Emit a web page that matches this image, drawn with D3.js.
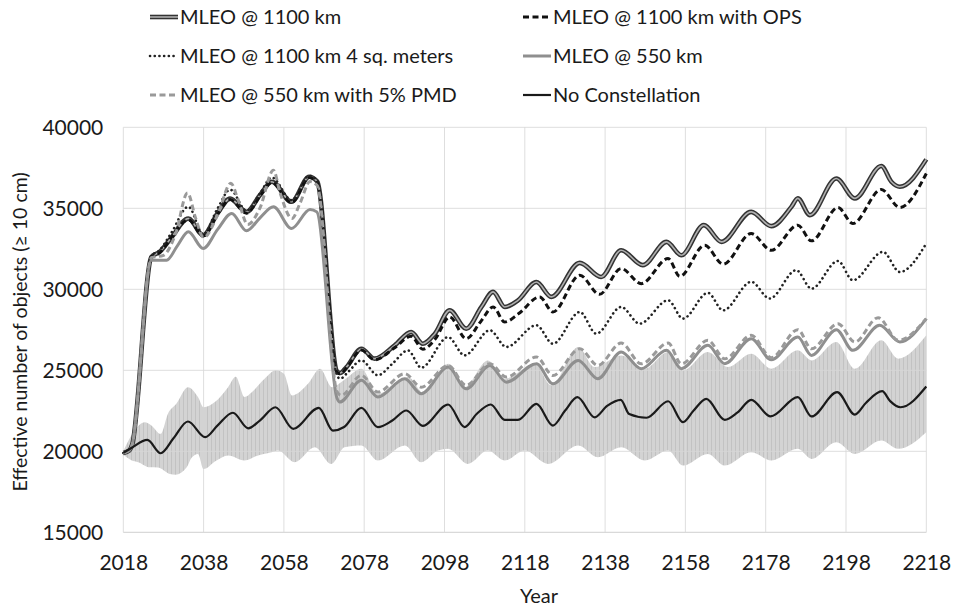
<!DOCTYPE html>
<html><head><meta charset="utf-8">
<script src="https://cdn.jsdelivr.net/npm/d3@7"></script>
<style>
html,body{margin:0;padding:0;background:#fff;}
text{font-family:Lato,"Open Sans",sans-serif;fill:#1a1a1a;}
</style></head>
<body><svg id="chart" width="955" height="609"></svg>
<script>
// ---- data ----
const xTicks = [2018,2038,2058,2078,2098,2118,2138,2158,2178,2198,2218];
const yTicks = [15000,20000,25000,30000,35000,40000];
const seriesNames = ["MLEO @ 1100 km","MLEO @ 1100 km with OPS","MLEO @ 1100 km 4 sq. meters","MLEO @ 550 km","MLEO @ 550 km with 5% PMD","No Constellation"];

const mleo1100 = [[2018,19900],[2019.5,20050],[2020.2,20400],[2025,32000],[2027,32300],[2030,33200],[2034.2,34370],[2037.9,33340],[2041.5,34700],[2044.6,35600],[2048.7,34780],[2052,35800],[2055,36640],[2059.9,35400],[2064.3,36950],[2066.3,36650],[2071.2,24950],[2072,24830],[2073.6,25200],[2077.3,26330],[2080.6,25720],[2085.6,26540],[2089.7,27360],[2092.6,26640],[2095.6,27260],[2099.3,28700],[2103.4,27570],[2107.2,28910],[2110.1,29840],[2113,28910],[2116.3,29320],[2120.9,30450],[2124.6,29530],[2131.7,31630],[2137,30760],[2142,32410],[2147.4,31490],[2153.3,32930],[2157,32100],[2162.6,33960],[2167,32930],[2174.4,34780],[2179.4,33900],[2184.4,35090],[2186,35610],[2189,34580],[2195.6,36840],[2200.2,35610],[2206.8,37610],[2209.3,36640],[2211.4,36330],[2218,38020]];

const mleo1100Ops = [[2018,19900],[2019.5,20050],[2020.2,20400],[2025,32000],[2027,32250],[2030,33200],[2034.2,34300],[2037.9,33300],[2041.5,34650],[2044.6,35550],[2048.7,34700],[2052,35750],[2055,36600],[2059.9,35350],[2064.3,36900],[2066.3,36600],[2071.2,24900],[2072,24780],[2073.6,25150],[2077.3,26250],[2080.6,25650],[2085.6,26400],[2089.7,27100],[2092.6,26300],[2095.6,26900],[2099.3,28290],[2103.4,26950],[2107,28000],[2110.1,28910],[2113,27980],[2116.5,28500],[2121.7,29530],[2125,28600],[2131.7,30870],[2136.6,29690],[2142,31280],[2147,30350],[2153.7,31900],[2156.6,30800],[2162.8,32720],[2167.4,31550],[2174.4,33440],[2179.4,32410],[2186,33960],[2189.4,32990],[2196,35050],[2199.7,34060],[2206.8,36160],[2211.4,35050],[2218,37150]];

const mleo1100Sq4 = [[2018,19900],[2019.5,20050],[2020.2,20400],[2025,32050],[2027,32400],[2030,33500],[2034.2,35100],[2037.9,33400],[2041.5,35000],[2044.6,36150],[2048.7,34850],[2052,35900],[2055,36900],[2059.9,35500],[2064.3,37000],[2066.3,36700],[2071.2,24700],[2072,24480],[2074,24900],[2077.3,25610],[2081.4,24690],[2085,25400],[2088.9,26230],[2092.2,25160],[2098.9,27050],[2103,25920],[2109.3,27470],[2113.4,26440],[2120.9,27780],[2125,26640],[2131.7,28600],[2135.8,27260],[2142,28910],[2146.6,27880],[2153.7,29320],[2157.4,28190],[2163.6,29780],[2167.4,28700],[2174.4,30460],[2179,29430],[2185.6,31180],[2189.4,30040],[2196,31750],[2199.7,30560],[2207.2,32310],[2211.4,31070],[2218,32830]];

const mleo550 = [[2018,19900],[2019.5,20050],[2020.2,20400],[2025,31800],[2028.8,31800],[2031.5,32700],[2034.2,33550],[2037.9,32520],[2041.5,33700],[2045,34680],[2048.7,33610],[2052,34400],[2055.4,35090],[2059.9,33750],[2064.5,34930],[2066.2,34780],[2071.2,23300],[2071.9,23040],[2077.3,24380],[2081.4,23350],[2088.1,24480],[2092.2,23550],[2098.9,25200],[2103.4,23860],[2109.3,25300],[2113.4,24270],[2120.9,25410],[2125,24170],[2131.3,25610],[2136.2,24480],[2142,26130],[2147,25100],[2153.3,26230],[2157,25100],[2163.6,26540],[2167.8,25410],[2174.4,26950],[2179.4,25650],[2186,27050],[2189.4,25920],[2195.6,27510],[2199.7,26230],[2206.4,27780],[2211.4,26750],[2218,28190]];

const mleo550Pmd = [[2018,19900],[2019.5,20050],[2020.2,20400],[2025,31950],[2028,32100],[2031,33400],[2034,35950],[2036,34400],[2038,33200],[2041.5,34600],[2044.8,36550],[2046.5,35600],[2049,34000],[2052,35000],[2055.4,37350],[2057,36000],[2060,34370],[2062,35300],[2064.5,36650],[2066.3,36400],[2071.2,23700],[2072.3,23450],[2077.3,24690],[2081.4,23660],[2088.1,24790],[2092.2,23960],[2098.9,25300],[2103.4,24070],[2109.3,25410],[2113.4,24580],[2120.9,25820],[2125,24680],[2131.7,26330],[2136.2,25300],[2142,26680],[2147,25400],[2153.7,26680],[2157,25400],[2163.6,26850],[2167.8,25710],[2174.4,27160],[2179.4,25780],[2186,27510],[2189.4,26330],[2196,27880],[2200.2,26750],[2206,28250],[2211,26850],[2218,28190]];

const noConstellation = [[2018,19900],[2020,20200],[2024,20700],[2027.3,19880],[2030.5,20800],[2034.1,21840],[2038.4,20870],[2041.5,21600],[2045.3,22380],[2049.1,21420],[2052,21900],[2055.9,22720],[2060.3,21390],[2066.7,22680],[2070.2,21280],[2073,21500],[2077.3,22680],[2081.4,21490],[2085,21900],[2088.5,22520],[2092.6,21570],[2098.9,22890],[2103,21490],[2106,22300],[2109.5,22890],[2113,21940],[2116.3,21940],[2120.9,22930],[2125,21590],[2128,22500],[2131.1,23340],[2135.4,22100],[2138.5,22800],[2141.9,23180],[2144,22300],[2148.3,22070],[2153.7,23090],[2157.4,21800],[2160,22500],[2163.2,23240],[2167.8,21940],[2171,22400],[2174.4,23180],[2179.2,22150],[2186,23340],[2189.4,22150],[2195.8,23650],[2200.2,22270],[2203,23000],[2207,23710],[2209,23100],[2211.6,22720],[2218,24000]];

const bandUpper = [[2018,20000],[2020.8,21280],[2023.3,21800],[2025,21600],[2027.3,21080],[2029.1,22310],[2031.2,22930],[2034.1,23960],[2036.6,23350],[2038,22720],[2040.8,23040],[2044.1,23960],[2046,24600],[2048.2,23350],[2050,23650],[2053.2,24480],[2056,25000],[2058,24790],[2060,23450],[2064,24170],[2067,25100],[2070,23960],[2073,24400],[2077.3,25100],[2081.4,23550],[2085,24000],[2088.9,24580],[2093,23550],[2096,24500],[2098.9,25400],[2103,23960],[2108.8,25610],[2113,24480],[2120.5,25400],[2124.6,24070],[2131.3,26440],[2135.4,25200],[2142,25920],[2147.9,25100],[2153.7,26130],[2157.4,24990],[2163.6,26130],[2168.6,25200],[2174.4,26020],[2179.4,25100],[2186,26230],[2189.4,25610],[2195.6,26750],[2200.2,25100],[2206.8,26850],[2211,25720],[2218,27160]];

const bandLower = [[2018,19800],[2020,19450],[2021.7,19330],[2024.6,19010],[2026.6,19000],[2029.6,18600],[2031,18550],[2033.8,19010],[2035,19600],[2036.6,19840],[2038,18900],[2041,19400],[2044.1,19740],[2048.2,19430],[2051,19700],[2054.9,19940],[2056.5,20050],[2060.7,19330],[2065.7,20250],[2069.8,19220],[2073.1,20250],[2077.3,20360],[2081.4,19430],[2088.1,20360],[2092.2,19330],[2096.4,20050],[2098.9,20150],[2103.8,19220],[2108.8,20050],[2113,19430],[2118,20050],[2123.8,19220],[2131.3,20360],[2136.2,19630],[2142,20250],[2147.9,19430],[2153.7,20050],[2157.4,19120],[2163.6,19840],[2167.8,19120],[2174.4,19940],[2179.4,19430],[2186,20150],[2189.4,19530],[2195.6,20560],[2200.2,19840],[2206.8,20670],[2211,20150],[2218,21180]];

// ---- layout ----
const svg = d3.select("#chart");
const x = d3.scaleLinear().domain([2018,2218]).range([123.3,926.3]);
const y = d3.scaleLinear().domain([15000,40000]).range([532.3,127.3]);

// pattern for band texture (vertical error-bar look)
const defs = svg.append("defs");
const pat = defs.append("pattern").attr("id","bandPat").attr("patternUnits","userSpaceOnUse")
  .attr("width",4).attr("height",10);
pat.append("rect").attr("width",4).attr("height",10).attr("fill","#d3d3d3");
pat.append("rect").attr("x",3).attr("width",1).attr("height",10).attr("fill","#c2c2c2");

const curve = d3.curveMonotoneX;
const lineGen = d3.line().x(d=>x(d[0])).y(d=>y(d[1])).curve(curve);
const upPath = lineGen(bandUpper);
const lowPath = lineGen(bandLower.slice().reverse());
svg.append("path").attr("d", upPath + "L" + lowPath.slice(1) + "Z")
  .attr("fill","url(#bandPat)");

// grid
const grid = svg.append("g");
grid.selectAll("line.h").data(yTicks).join("line")
  .attr("x1",x(2018)).attr("x2",x(2218)).attr("y1",d=>y(d)).attr("y2",d=>y(d))
  .attr("stroke",d=>d===15000?"#c8c8c8":"#d9d9d9").attr("stroke-width",1).attr("opacity",0.85);
grid.selectAll("line.v").data(xTicks).join("line")
  .attr("y1",y(15000)).attr("y2",y(40000)).attr("x1",d=>x(d)).attr("x2",d=>x(d))
  .attr("stroke","#d9d9d9").attr("stroke-width",1).attr("opacity",0.85);

// axes labels
const xAxis = d3.axisBottom(x).tickValues(xTicks).tickFormat(d3.format("d")).tickSize(0).tickPadding(23);
const gx = svg.append("g").attr("transform",`translate(0,${y(15000)})`).call(xAxis);
gx.select(".domain").remove();
gx.selectAll("text").attr("font-size",21).attr("fill","#1a1a1a").style("font-family","Lato");
const yAxis = d3.axisLeft(y).tickValues(yTicks).tickFormat(d3.format("d")).tickSize(0).tickPadding(20);
const gy = svg.append("g").attr("transform",`translate(${x(2018)},0)`).call(yAxis);
gy.select(".domain").remove();
gy.selectAll("text").attr("font-size",21).attr("fill","#1a1a1a").style("font-family","Lato");

svg.append("text").attr("x",539).attr("y",603).attr("text-anchor","middle").attr("font-size",20).text("Year");
svg.append("text").attr("transform","translate(27,332) rotate(-90)").attr("text-anchor","middle")
  .attr("font-size",19.5).text("Effective number of objects (\u2265 10 cm)");

// series
const styles = [
  {data:mleo1100, layers:[{stroke:"#333",w:4.6},{stroke:"#b0b0b0",w:1.6}]},
  {data:mleo1100Ops, layers:[{stroke:"#111",w:3,dash:"6,3.5"}]},
  {data:mleo1100Sq4, layers:[{stroke:"#222",w:2.6,dash:"0.1,4.6",cap:"round"}]},
  {data:mleo550, layers:[{stroke:"#8f8f8f",w:3}]},
  {data:mleo550Pmd, layers:[{stroke:"#9a9a9a",w:3,dash:"6,3.5"}]},
  {data:noConstellation, layers:[{stroke:"#1a1a1a",w:2.2}]}
];
styles.forEach(s=>{
  s.layers.forEach(l=>{
    svg.append("path").attr("d",lineGen(s.data)).attr("fill","none")
      .attr("stroke",l.stroke).attr("stroke-width",l.w)
      .attr("stroke-dasharray",l.dash||null).attr("stroke-linecap",l.cap||"butt")
      .attr("stroke-linejoin","round");
  });
});

// legend
const legPos = [[150,17],[523,17],[150,56],[523,56],[150,95],[523,95]];
styles.forEach((s,i)=>{
  const [lx,ly] = legPos[i];
  s.layers.forEach(l=>{
    svg.append("line").attr("x1",lx).attr("x2",lx+28).attr("y1",ly).attr("y2",ly)
      .attr("stroke",l.stroke).attr("stroke-width",l.w)
      .attr("stroke-dasharray",l.dash||null).attr("stroke-linecap",l.cap||"butt");
  });
  svg.append("text").attr("x",lx+30).attr("y",ly).attr("dy","0.35em").attr("font-size",20).text(seriesNames[i]);
});
</script></body></html>
